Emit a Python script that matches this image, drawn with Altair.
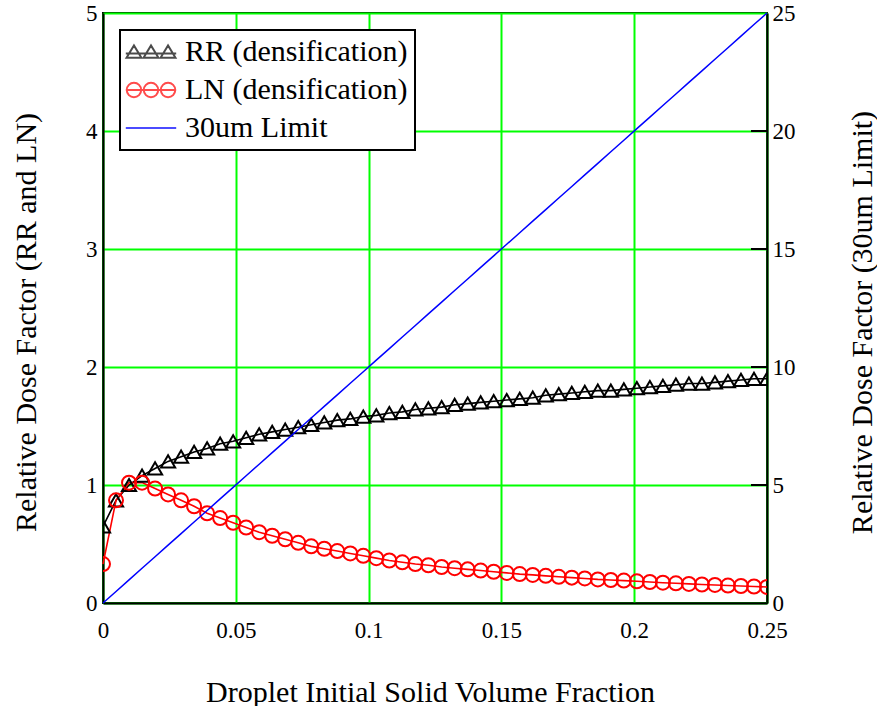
import altair as alt
import pandas as pd

# ---------------- data ----------------
x_vals = [0.0, 0.0049, 0.0098, 0.0147, 0.0196, 0.0245, 0.0294, 0.0343, 0.0392, 0.0441,
          0.0490, 0.0539, 0.0588, 0.0637, 0.0686, 0.0735, 0.0784, 0.0833, 0.0882, 0.0931,
          0.0980, 0.1029, 0.1078, 0.1127, 0.1176, 0.1225, 0.1275, 0.1324, 0.1373, 0.1422,
          0.1471, 0.1520, 0.1569, 0.1618, 0.1667, 0.1716, 0.1765, 0.1814, 0.1863, 0.1912,
          0.1961, 0.2010, 0.2059, 0.2108, 0.2157, 0.2206, 0.2255, 0.2304, 0.2353, 0.2402,
          0.2451, 0.2500]

rr_vals = [0.65, 0.87, 1.00, 1.08, 1.14, 1.20, 1.24, 1.28, 1.31, 1.35,
           1.37, 1.40, 1.43, 1.45, 1.47, 1.49, 1.51, 1.53, 1.55, 1.56,
           1.58, 1.59, 1.61, 1.62, 1.64, 1.65, 1.66, 1.68, 1.69, 1.70,
           1.71, 1.72, 1.73, 1.74, 1.76, 1.77, 1.78, 1.79, 1.80, 1.80,
           1.81, 1.82, 1.83, 1.84, 1.85, 1.86, 1.86, 1.87, 1.88, 1.89,
           1.90, 1.90]

ln_vals = [0.33, 0.87, 1.02, 1.02, 0.97, 0.92, 0.87, 0.82, 0.76, 0.72,
           0.68, 0.64, 0.60, 0.57, 0.54, 0.51, 0.48, 0.46, 0.44, 0.42,
           0.40, 0.38, 0.36, 0.345, 0.33, 0.32, 0.305, 0.295, 0.285, 0.275,
           0.265, 0.255, 0.245, 0.238, 0.23, 0.222, 0.215, 0.208, 0.20, 0.195,
           0.19, 0.184, 0.178, 0.172, 0.167, 0.162, 0.157, 0.153, 0.148, 0.144,
           0.14, 0.136]

limit_vals = [0.0, 0.49, 0.98, 1.47, 1.96, 2.45, 2.94, 3.43, 3.92, 4.41,
              4.90, 5.39, 5.88, 6.37, 6.86, 7.35, 7.84, 8.33, 8.82, 9.31,
              9.80, 10.29, 10.78, 11.27, 11.76, 12.25, 12.75, 13.24, 13.73, 14.22,
              14.71, 15.20, 15.69, 16.18, 16.67, 17.16, 17.65, 18.14, 18.63, 19.12,
              19.61, 20.10, 20.59, 21.08, 21.57, 22.06, 22.55, 23.04, 23.53, 24.02,
              24.51, 25.00]

series_names = ["RR (densification)", "LN (densification)", "30um Limit"]
series_colors = ["#000000", "#ff0000", "#0000ff"]

x_ticks = [0, 0.05, 0.1, 0.15, 0.2, 0.25]
left_ticks = [0, 1, 2, 3, 4, 5]
right_ticks = [0, 5, 10, 15, 20, 25]
right_inner_ticks = [5, 10, 15, 20]

x_title = "Droplet Initial Solid Volume Fraction"
left_title = "Relative Dose Factor (RR and LN)"
right_title = "Relative Dose Factor (30um Limit)"

# ---------------- tables ----------------
rr_df = pd.DataFrame({"x": x_vals, "val": rr_vals})
ln_df = pd.DataFrame({"x": x_vals, "val": ln_vals})
lim_df = pd.DataFrame({"x": x_vals, "val": limit_vals})
legend_df = pd.DataFrame({"series": series_names, "x": [0.0] * 3, "val": [0.0] * 3})
tick_df = pd.DataFrame({"val": right_inner_ticks})

FONT = "Liberation Serif"
GREEN = "#00ff00"

# custom legend symbols (unit coords, scaled by sqrt(symbolSize)/2 = 12px per unit)
SH = 0.75  # shift right so the wide symbol stays inside the legend box


def tri(cx):
    cx += SH
    return f"M{cx-0.62:.2f},0.48 L{cx:.2f},-0.55 L{cx+0.62:.2f},0.48 Z "


def circ(cx, r=0.6):
    cx += SH
    return (f"M{cx-r:.2f},0 A{r},{r} 0 1,0 {cx+r:.2f},0 "
            f"A{r},{r} 0 1,0 {cx-r:.2f},0 ")


L0, L1 = -2.1 + SH, 2.1 + SH
tri_path = f"M{L0:.2f},0.12 L{L1:.2f},0.12 " + tri(-1.42) + tri(0) + tri(1.42)
circ_path = f"M{L0:.2f},0 L{L1:.2f},0 " + circ(-1.42) + circ(0) + circ(1.42)
line_path = f"M{L0:.2f},0 L{L1:.2f},0"
legend_shapes = [tri_path.strip(), circ_path.strip(), line_path]

x_enc = alt.X(
    "x:Q",
    scale=alt.Scale(domain=[0, 0.25], nice=False, zero=False),
    axis=alt.Axis(
        values=x_ticks, format="~g", title=x_title,
        grid=True, gridColor=GREEN, gridWidth=2, gridOpacity=1,
        ticks=False, labelPadding=16, labelFlush=False, labelOverlap=False,
        domainColor="black", domainWidth=2,
        labelFont=FONT, labelFontSize=23, labelColor="black",
        titleFont=FONT, titleFontSize=30, titleFontWeight="normal", titleColor="black",
        titleX=327, titleY=98, titleBaseline="alphabetic", titleAlign="center",
    ),
)

y_left = alt.Y(
    "val:Q",
    scale=alt.Scale(domain=[0, 5], nice=False, zero=False),
    axis=alt.Axis(
        values=left_ticks, format="d", title=left_title,
        grid=True, gridColor=GREEN, gridWidth=2, gridOpacity=1,
        ticks=False, labelPadding=6, labelFlush=False, labelOverlap=False,
        domainColor="black", domainWidth=2,
        labelFont=FONT, labelFontSize=23, labelColor="black",
        titleFont=FONT, titleFontSize=30, titleFontWeight="normal", titleColor="black",
        titleX=-77, titleY=309, titleAngle=270, titleBaseline="middle", titleAlign="center",
    ),
)

y_right = alt.Y(
    "val:Q",
    scale=alt.Scale(domain=[0, 25], nice=False, zero=False),
    axis=alt.Axis(
        orient="right", values=right_ticks, format="d", title=right_title,
        grid=False, ticks=False, labelPadding=5, labelFlush=False, labelOverlap=False,
        domainColor="black", domainWidth=2,
        labelFont=FONT, labelFontSize=23, labelColor="black",
        titleFont=FONT, titleFontSize=30, titleFontWeight="normal", titleColor="black",
        titleX=95, titleY=309, titleAngle=270, titleBaseline="middle", titleAlign="center",
    ),
)

leg = alt.Legend(
    title=None, orient="none", legendX=17, legendY=17,
    labelFont=FONT, labelFontSize=30, labelColor="black", labelLimit=0,
    symbolSize=576, symbolStrokeWidth=2, symbolFillColor="transparent",
    labelOffset=28, padding=7, rowPadding=8,
    strokeColor="black", fillColor="white",
)

rr_line = alt.Chart(rr_df).mark_line(color="black", strokeWidth=1.6).encode(x=x_enc, y=y_left)
rr_pts = alt.Chart(rr_df).mark_point(
    shape="triangle-up", size=200, color="black", strokeWidth=2, filled=False, clip=True, opacity=1
).encode(x=x_enc, y=y_left)
ln_line = alt.Chart(ln_df).mark_line(color="#ff0000", strokeWidth=1.6).encode(x=x_enc, y=y_left)
ln_pts = alt.Chart(ln_df).mark_point(
    shape="circle", size=196, color="#ff0000", strokeWidth=2, filled=False, clip=True, opacity=1
).encode(x=x_enc, y=y_left)

legend_layer = alt.Chart(legend_df).transform_filter("datum.val > 100").mark_point(
    filled=False, strokeWidth=2
).encode(
    x=x_enc, y=y_left,
    color=alt.Color("series:N", scale=alt.Scale(domain=series_names, range=series_colors), legend=leg),
    shape=alt.Shape("series:N", scale=alt.Scale(domain=series_names, range=legend_shapes), legend=leg),
)

left = alt.layer(rr_line, ln_line, rr_pts, ln_pts, legend_layer)

lim_line = alt.Chart(lim_df).mark_line(color="#0000ff", strokeWidth=1.5).encode(x=x_enc, y=y_right)
inner_ticks = alt.Chart(tick_df).mark_rule(color="black", strokeWidth=2).encode(
    y=y_right, x=alt.value(648), x2=alt.value(664)
)
right = alt.layer(lim_line, inner_ticks)

chart = alt.layer(left, right).resolve_scale(y="independent").properties(
    width=664, height=590,
    autosize=alt.AutoSizeParams(type="none"),
    padding={"left": 103, "top": 13, "right": 110, "bottom": 103},
    background="white",
).configure(font=FONT).configure_axis(
    labelFont=FONT, titleFont=FONT
).configure_legend(strokeWidth=2, labelFont=FONT).configure_view(stroke="black", strokeWidth=2)

chart.save("out.html", embed_options={"renderer": "svg", "actions": False})
